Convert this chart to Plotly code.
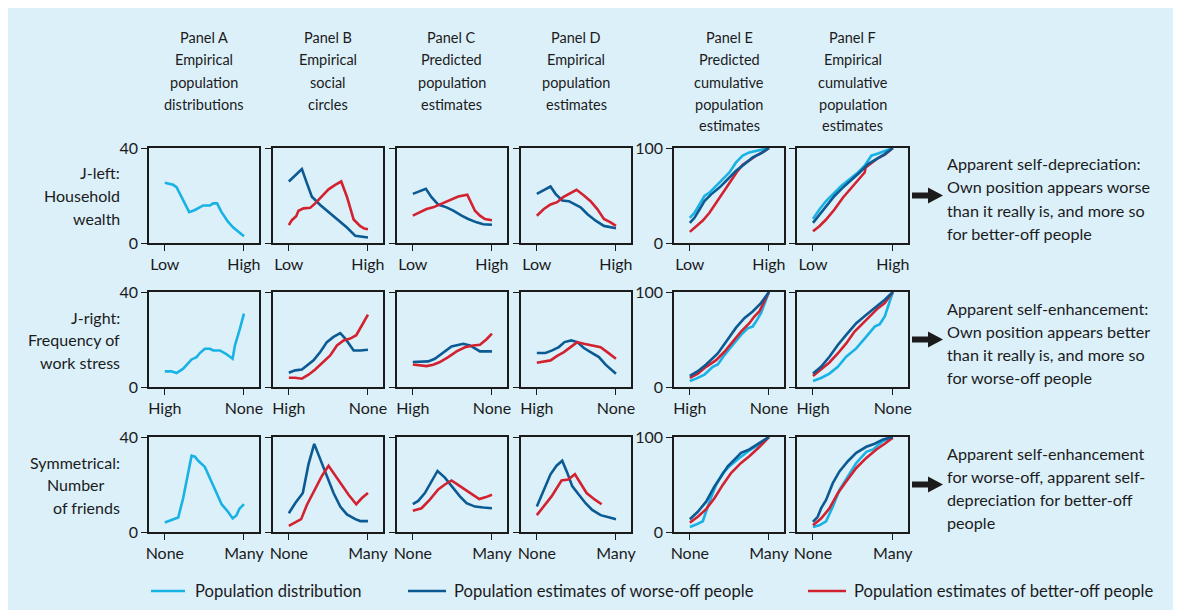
import plotly.graph_objects as go

# ---- data (x = position along the axis from 0 to 1, y = value) ----
# Row 1: J-left, household wealth
wealth_A_pop_x = [0, .105, .148, .211, .308, .38, .485, .57, .61, .66, .715, .8, .865, .95, 1]
wealth_A_pop_y = [25.4, 24.5, 23.5, 19.5, 13.0, 13.9, 15.8, 15.8, 16.7, 16.7, 13.1, 8.9, 6.5, 4.2, 2.8]
wealth_B_worse_x = [0, .165, .228, .291, .397, .523, .629, .734, .84, 1]
wealth_B_worse_y = [25.9, 31.1, 25.2, 19.5, 16.0, 12.4, 9.6, 6.5, 3.0, 2.3]
wealth_B_better_x = [0, .038, .093, .122, .186, .27, .333, .418, .502, .586, .662, .734, .819, .903, .954, 1]
wealth_B_better_y = [7.5, 9.6, 11.3, 13.6, 14.6, 14.8, 16.7, 19.5, 22.6, 24.5, 25.9, 19.5, 9.9, 7.1, 6.1, 5.8]
wealth_C_worse_x = [0, .089, .165, .236, .321, .426, .511, .616, .7, .806, .89, 1]
wealth_C_worse_y = [20.7, 21.7, 22.8, 19.3, 16.2, 15.0, 13.6, 11.5, 10.1, 8.7, 7.9, 7.7]
wealth_C_better_x = [0, .089, .173, .257, .342, .468, .574, .688, .785, .848, .911, 1]
wealth_C_better_y = [11.5, 12.9, 14.3, 15.0, 16.2, 18.2, 19.6, 20.3, 13.6, 11.5, 10.1, 9.6]
wealth_D_worse_x = [0, .089, .173, .236, .321, .405, .489, .553, .637, .743, .848, .932, 1]
wealth_D_worse_y = [20.7, 22.4, 23.8, 20.7, 17.9, 17.6, 16.2, 15.0, 12.2, 9.4, 7.2, 6.8, 6.2]
wealth_D_better_x = [0, .089, .173, .257, .333, .418, .502, .595, .679, .764, .848, .932, 1]
wealth_D_better_y = [11.5, 14.3, 16.2, 17.2, 19.3, 20.7, 22.4, 20.0, 17.6, 14.3, 10.1, 8.7, 7.2]
wealth_E_pop_x = [0, .059, .122, .185, .248, .332, .416, .5, .584, .668, .752, .857, .92, 1]
wealth_E_pop_y = [26.5, 31.8, 40.6, 49.5, 53.0, 60.1, 67.1, 74.2, 84.8, 91.9, 95.4, 97.2, 98.9, 100]
wealth_E_worse_x = [0, .059, .122, .185, .269, .374, .479, .584, .689, .794, .899, 1]
wealth_E_worse_y = [21.2, 26.5, 35.3, 44.2, 51.2, 58.3, 67.1, 76.0, 83.0, 90.1, 94.3, 100]
wealth_E_better_x = [0, .08, .164, .248, .332, .437, .521, .605, .668, .752, .857, .941, 1]
wealth_E_better_y = [11.7, 17.7, 23.7, 31.8, 42.4, 54.8, 65.4, 76.0, 82.3, 87.3, 92.9, 96.5, 100]
wealth_F_pop_x = [0, .08, .164, .248, .353, .458, .563, .647, .731, .815, .92, 1]
wealth_F_pop_y = [25.4, 35.3, 44.2, 51.2, 60.1, 67.1, 74.2, 81.3, 91.9, 94.3, 97.2, 100]
wealth_F_worse_x = [0, .08, .164, .269, .374, .479, .584, .689, .794, .899, 1]
wealth_F_worse_y = [21.2, 29.3, 38.9, 49.5, 58.3, 66.1, 74.2, 83.0, 88.3, 93.6, 100]
wealth_F_better_x = [0, .08, .164, .269, .374, .479, .584, .647, .66, .731, .815, .899, 1]
wealth_F_better_y = [12.4, 17.7, 24.7, 35.3, 47.7, 58.3, 68.2, 74.2, 79.5, 83.7, 89.4, 92.9, 100]

# Row 2: J-right, frequency of work stress
stress_A_pop_x = [0, .084, .148, .232, .338, .401, .443, .506, .57, .612, .696, .772, .856, .886, .949, 1]
stress_A_pop_y = [6.6, 6.6, 5.9, 7.7, 11.6, 12.6, 14.3, 16.1, 16.1, 15.4, 15.4, 14.0, 11.9, 17.5, 24.6, 30.9]
stress_B_worse_x = [0, .08, .165, .228, .312, .397, .481, .565, .65, .713, .819, .903, 1]
stress_B_worse_y = [6.0, 7.0, 7.4, 9.1, 11.2, 14.7, 18.9, 21.1, 22.7, 20.4, 15.4, 15.4, 15.7]
stress_B_better_x = [0, .08, .165, .249, .333, .439, .523, .608, .692, .776, .852, .924, 1]
stress_B_better_y = [3.9, 3.9, 3.5, 5.2, 7.4, 10.5, 13.3, 17.5, 19.6, 20.4, 21.8, 26.0, 30.5]
stress_C_worse_x = [0, .089, .194, .278, .363, .489, .637, .722, .848, 1]
stress_C_worse_y = [10.5, 10.5, 10.8, 11.9, 14.0, 17.1, 18.2, 17.5, 15.0, 15.0]
stress_C_better_x = [0, .089, .173, .257, .342, .447, .553, .658, .764, .848, .932, 1]
stress_C_better_y = [9.5, 9.1, 8.8, 9.4, 10.5, 12.6, 15.0, 16.7, 17.5, 17.8, 20.1, 22.5]
stress_D_worse_x = [0, .11, .194, .278, .35, .435, .511, .595, .679, .785, .869, 1]
stress_D_worse_y = [14.3, 14.3, 15.4, 16.8, 18.9, 19.6, 18.9, 16.4, 14.7, 12.6, 9.4, 5.6]
stress_D_better_x = [0, .089, .173, .257, .342, .426, .511, .595, .7, .806, .89, 1]
stress_D_better_y = [10.2, 10.8, 11.2, 13.1, 14.7, 16.8, 18.9, 18.2, 17.5, 16.8, 14.7, 11.9]
stress_E_pop_x = [0, .08, .185, .29, .353, .437, .542, .647, .731, .794, .836, .899, 1]
stress_E_pop_y = [6.4, 8.8, 13.1, 21.2, 23.7, 33.6, 44.2, 54.8, 61.8, 63.6, 68.9, 77.7, 100]
stress_E_worse_x = [0, .101, .206, .353, .458, .584, .689, .794, .899, 1]
stress_E_worse_y = [11.7, 16.6, 23.7, 35.3, 47.7, 62.5, 72.4, 79.5, 88.3, 100]
stress_E_better_x = [0, .101, .206, .332, .437, .542, .647, .752, .815, .878, .92, 1]
stress_E_better_y = [9.5, 14.1, 21.2, 28.3, 37.1, 47.7, 58.3, 67.1, 74.2, 79.5, 86.6, 100]
stress_F_pop_x = [0, .101, .206, .311, .416, .542, .668, .773, .836, .899, 1]
stress_F_pop_y = [6.4, 9.5, 14.1, 21.2, 31.8, 40.6, 53.0, 63.6, 66.1, 74.2, 100]
stress_F_worse_x = [0, .101, .206, .311, .416, .542, .668, .794, .899, 1]
stress_F_worse_y = [14.1, 21.2, 31.8, 44.2, 54.8, 67.1, 76.0, 84.8, 91.9, 100]
stress_F_better_x = [0, .101, .206, .311, .416, .521, .626, .731, .815, .899, 1]
stress_F_better_y = [11.7, 18.7, 25.8, 35.3, 45.9, 58.3, 67.1, 76.0, 83.0, 88.3, 100]

# Row 3: symmetrical, number of friends
friends_A_pop_x = [0, .084, .169, .232, .295, .338, .38, .422, .506, .57, .654, .717, .789, .857, .907, .941, 1]
friends_A_pop_y = [4.0, 5.0, 6.1, 14.3, 25.7, 32.1, 31.7, 30.0, 27.4, 22.9, 16.4, 11.7, 8.9, 5.7, 7.1, 9.7, 11.7]
friends_B_worse_x = [0, .08, .177, .249, .321, .397, .481, .565, .65, .734, .84, .903, 1]
friends_B_worse_y = [7.9, 12.1, 16.4, 28.6, 37.1, 30.7, 23.6, 16.4, 10.7, 7.4, 5.4, 4.6, 4.6]
friends_B_better_x = [0, .156, .228, .312, .418, .502, .565, .65, .755, .852, .924, 1]
friends_B_better_y = [2.6, 5.4, 11.4, 17.1, 23.6, 27.9, 25.0, 20.7, 15.7, 11.7, 14.3, 16.4]
friends_C_worse_x = [0, .068, .152, .236, .312, .405, .489, .595, .679, .785, .89, 1]
friends_C_worse_y = [11.7, 13.1, 16.4, 21.4, 25.7, 22.9, 19.3, 15.0, 12.1, 10.7, 10.3, 10.0]
friends_C_better_x = [0, .11, .215, .321, .405, .489, .595, .722, .84, .924, 1]
friends_C_better_y = [8.9, 10.0, 13.6, 17.9, 20.0, 21.7, 19.3, 16.4, 13.9, 14.7, 15.7]
friends_D_worse_x = [0, .089, .173, .249, .321, .384, .447, .532, .616, .7, .806, .932, 1]
friends_D_worse_y = [10.7, 17.9, 24.3, 27.9, 30.0, 25.0, 19.3, 15.7, 12.1, 9.3, 7.1, 6.0, 5.4]
friends_D_better_x = [0, .08, .186, .312, .397, .481, .544, .629, .734, .819]
friends_D_better_y = [7.1, 10.7, 15.0, 21.7, 22.1, 24.3, 20.7, 16.4, 13.6, 11.7]
friends_E_pop_x = [0, .08, .164, .248, .332, .416, .5, .626, .752, .878, 1]
friends_E_pop_y = [5.3, 7.8, 11.3, 31.9, 49.6, 62.1, 69.1, 78.0, 85.8, 92.2, 100]
friends_E_worse_x = [0, .101, .206, .311, .395, .479, .563, .647, .752, .857, 1]
friends_E_worse_y = [13.5, 21.3, 31.9, 47.9, 58.5, 69.1, 76.2, 83.3, 86.9, 92.2, 100]
friends_E_better_x = [0, .101, .206, .311, .416, .521, .647, .752, .878, 1]
friends_E_better_y = [9.9, 16.0, 24.1, 35.5, 49.6, 62.1, 72.7, 79.8, 89.4, 100]
friends_F_pop_x = [0, .08, .164, .248, .332, .437, .542, .668, .752, .878, 1]
friends_F_pop_y = [5.3, 7.1, 11.3, 26.6, 44.3, 58.5, 72.7, 84.4, 86.9, 95.7, 99.3]
friends_F_worse_x = [0, .059, .101, .164, .248, .332, .437, .542, .668, .773, .878, 1]
friends_F_worse_y = [10.6, 16.0, 24.8, 33.7, 51.4, 63.8, 74.5, 83.3, 89.7, 92.9, 97.5, 100]
friends_F_better_x = [0, .101, .206, .311, .416, .542, .668, .794, .899, 1]
friends_F_better_y = [7.1, 14.2, 24.8, 40.8, 53.2, 67.4, 78.0, 86.9, 92.9, 99.3]

column_titles = [
    ["Panel A", "Empirical", "population", "distributions"],
    ["Panel B", "Empirical", "social", "circles"],
    ["Panel C", "Predicted", "population", "estimates"],
    ["Panel D", "Empirical", "population", "estimates"],
    ["Panel E", "Predicted", "cumulative", "population", "estimates"],
    ["Panel F", "Empirical", "cumulative", "population", "estimates"],
]
row_labels = [
    ["J-left:", "Household", "wealth"],
    ["J-right:", "Frequency of", "work stress"],
    ["Symmetrical:", "Number", "of friends"],
]
x_tick_labels = [["Low", "High"], ["High", "None"], ["None", "Many"]]
y_max = [40, 40, 40, 40, 100, 100]
notes = [
    ["Apparent self-depreciation:", "Own position appears worse", "than it really is, and more so", "for better-off people"],
    ["Apparent self-enhancement:", "Own position appears better", "than it really is, and more so", "for worse-off people"],
    ["Apparent self-enhancement", "for worse-off, apparent self-", "depreciation for better-off", "people"],
]
legend_names = ["Population distribution", "Population estimates of worse-off people",
                "Population estimates of better-off people"]

# ---- styling ----
# the page puts the figure 8px in from the top left corner, so the figure is
# 8px smaller than the window and all positions below are window pixels
OFF = 8
W, H = 1184 - OFF, 616 - OFF
BG = "#dcf0fa"
POP = "#18b2e4"
WORSE = "#0b5a94"
BETTER = "#d3222f"
INK = "#1b1b1b"
FONT = "Lato"

col_px = [(149, 259), (273, 383), (397, 507), (521, 631), (674, 784), (797, 908)]
row_px = [(148, 243), (292, 387), (437, 532)]
row_label_right = [[122, 122, 122], [122, 122, 122], [122, 107, 122]]


def px(x):
    return (x - OFF) / W


def py(y):
    return 1 - (y - OFF) / H


panels = {
    (0, 0): [(POP, wealth_A_pop_x, wealth_A_pop_y)],
    (0, 1): [(WORSE, wealth_B_worse_x, wealth_B_worse_y), (BETTER, wealth_B_better_x, wealth_B_better_y)],
    (0, 2): [(WORSE, wealth_C_worse_x, wealth_C_worse_y), (BETTER, wealth_C_better_x, wealth_C_better_y)],
    (0, 3): [(WORSE, wealth_D_worse_x, wealth_D_worse_y), (BETTER, wealth_D_better_x, wealth_D_better_y)],
    (0, 4): [(POP, wealth_E_pop_x, wealth_E_pop_y), (BETTER, wealth_E_better_x, wealth_E_better_y),
             (WORSE, wealth_E_worse_x, wealth_E_worse_y)],
    (0, 5): [(POP, wealth_F_pop_x, wealth_F_pop_y), (BETTER, wealth_F_better_x, wealth_F_better_y),
             (WORSE, wealth_F_worse_x, wealth_F_worse_y)],
    (1, 0): [(POP, stress_A_pop_x, stress_A_pop_y)],
    (1, 1): [(WORSE, stress_B_worse_x, stress_B_worse_y), (BETTER, stress_B_better_x, stress_B_better_y)],
    (1, 2): [(WORSE, stress_C_worse_x, stress_C_worse_y), (BETTER, stress_C_better_x, stress_C_better_y)],
    (1, 3): [(WORSE, stress_D_worse_x, stress_D_worse_y), (BETTER, stress_D_better_x, stress_D_better_y)],
    (1, 4): [(POP, stress_E_pop_x, stress_E_pop_y), (BETTER, stress_E_better_x, stress_E_better_y),
             (WORSE, stress_E_worse_x, stress_E_worse_y)],
    (1, 5): [(POP, stress_F_pop_x, stress_F_pop_y), (BETTER, stress_F_better_x, stress_F_better_y),
             (WORSE, stress_F_worse_x, stress_F_worse_y)],
    (2, 0): [(POP, friends_A_pop_x, friends_A_pop_y)],
    (2, 1): [(WORSE, friends_B_worse_x, friends_B_worse_y), (BETTER, friends_B_better_x, friends_B_better_y)],
    (2, 2): [(WORSE, friends_C_worse_x, friends_C_worse_y), (BETTER, friends_C_better_x, friends_C_better_y)],
    (2, 3): [(WORSE, friends_D_worse_x, friends_D_worse_y), (BETTER, friends_D_better_x, friends_D_better_y)],
    (2, 4): [(POP, friends_E_pop_x, friends_E_pop_y), (BETTER, friends_E_better_x, friends_E_better_y),
             (WORSE, friends_E_worse_x, friends_E_worse_y)],
    (2, 5): [(POP, friends_F_pop_x, friends_F_pop_y), (BETTER, friends_F_better_x, friends_F_better_y),
             (WORSE, friends_F_worse_x, friends_F_worse_y)],
}

fig = go.Figure()
layout = {}
for (r, c), series in panels.items():
    k = r * 6 + c + 1
    sx = "" if k == 1 else str(k)
    for color, xs, ys in series:
        fig.add_trace(go.Scatter(x=xs, y=ys, mode="lines", xaxis="x" + sx, yaxis="y" + sx,
                                 line=dict(color=color, width=2.6), showlegend=False,
                                 hoverinfo="skip"))
    common = dict(showline=True, mirror=True, linecolor=INK, linewidth=1.6, showgrid=False,
                  zeroline=False, ticks="outside", ticklen=6, tickwidth=1.4, tickcolor=INK,
                  automargin=False, fixedrange=True,
                  tickfont=dict(family=FONT, size=16, color=INK))
    layout["xaxis" + sx] = dict(common, domain=[px(col_px[c][0]), px(col_px[c][1])],
                                range=[-0.2, 1.19], tickvals=[0, 1], ticktext=x_tick_labels[r],
                                anchor="y" + sx)
    layout["yaxis" + sx] = dict(common, domain=[py(row_px[r][1]), py(row_px[r][0])],
                                range=[0, y_max[c]], tickvals=[0, y_max[c]],
                                showticklabels=c in (0, 4), anchor="x" + sx)
fig.update_layout(**layout)

annotations = []
shapes = [dict(type="rect", xref="paper", yref="paper", x0=px(8), x1=px(1173), y0=py(610), y1=py(8),
               fillcolor=BG, line=dict(width=0), layer="below")]


def text(s, x, y, size, xanchor="center"):
    annotations.append(dict(text=s, x=px(x), y=py(y), xref="paper", yref="paper", showarrow=False,
                            xanchor=xanchor, yanchor="middle",
                            font=dict(family=FONT, size=size, color=INK)))


for c, lines in enumerate(column_titles):
    cx = (col_px[c][0] + col_px[c][1]) / 2
    for i, s in enumerate(lines):
        text(s, cx, 38 + i * 22, 14.5)

for r, lines in enumerate(row_labels):
    cy = (row_px[r][0] + row_px[r][1]) / 2
    for i, s in enumerate(lines):
        text(s, row_label_right[r][i], cy - 22.5 + i * 22.5, 16, "right")

for r, lines in enumerate(notes):
    cy = (row_px[r][0] + row_px[r][1]) / 2 + 3
    for i, s in enumerate(lines):
        text(s, 945, cy - 34.5 + i * 23, 16.2, "left")
    ay = cy - 3
    pts = [(912, ay - 3), (928, ay - 3), (928, ay - 8), (943, ay), (928, ay + 8), (928, ay + 3), (912, ay + 3)]
    path = "M " + " L ".join(f"{px(a):.5f},{py(b):.5f}" for a, b in pts) + " Z"
    shapes.append(dict(type="path", xref="paper", yref="paper", path=path, fillcolor=INK,
                       line=dict(width=0)))

for (x0, x1, tx), color, name in zip([(151, 185, 193), (408, 446, 452), (808, 846, 852)],
                                     [POP, WORSE, BETTER], legend_names):
    shapes.append(dict(type="line", xref="paper", yref="paper", x0=px(x0), x1=px(x1), y0=py(591),
                       y1=py(591), line=dict(color=color, width=2.6)))
    text(name, tx, 591, 16.6, "left")

fig.update_layout(width=W, height=H, margin=dict(l=0, r=0, t=0, b=0, pad=0, autoexpand=False),
                  paper_bgcolor="white", plot_bgcolor=BG, annotations=annotations, shapes=shapes,
                  showlegend=False, font=dict(family=FONT, color=INK))
fig.write_html("out.html")
